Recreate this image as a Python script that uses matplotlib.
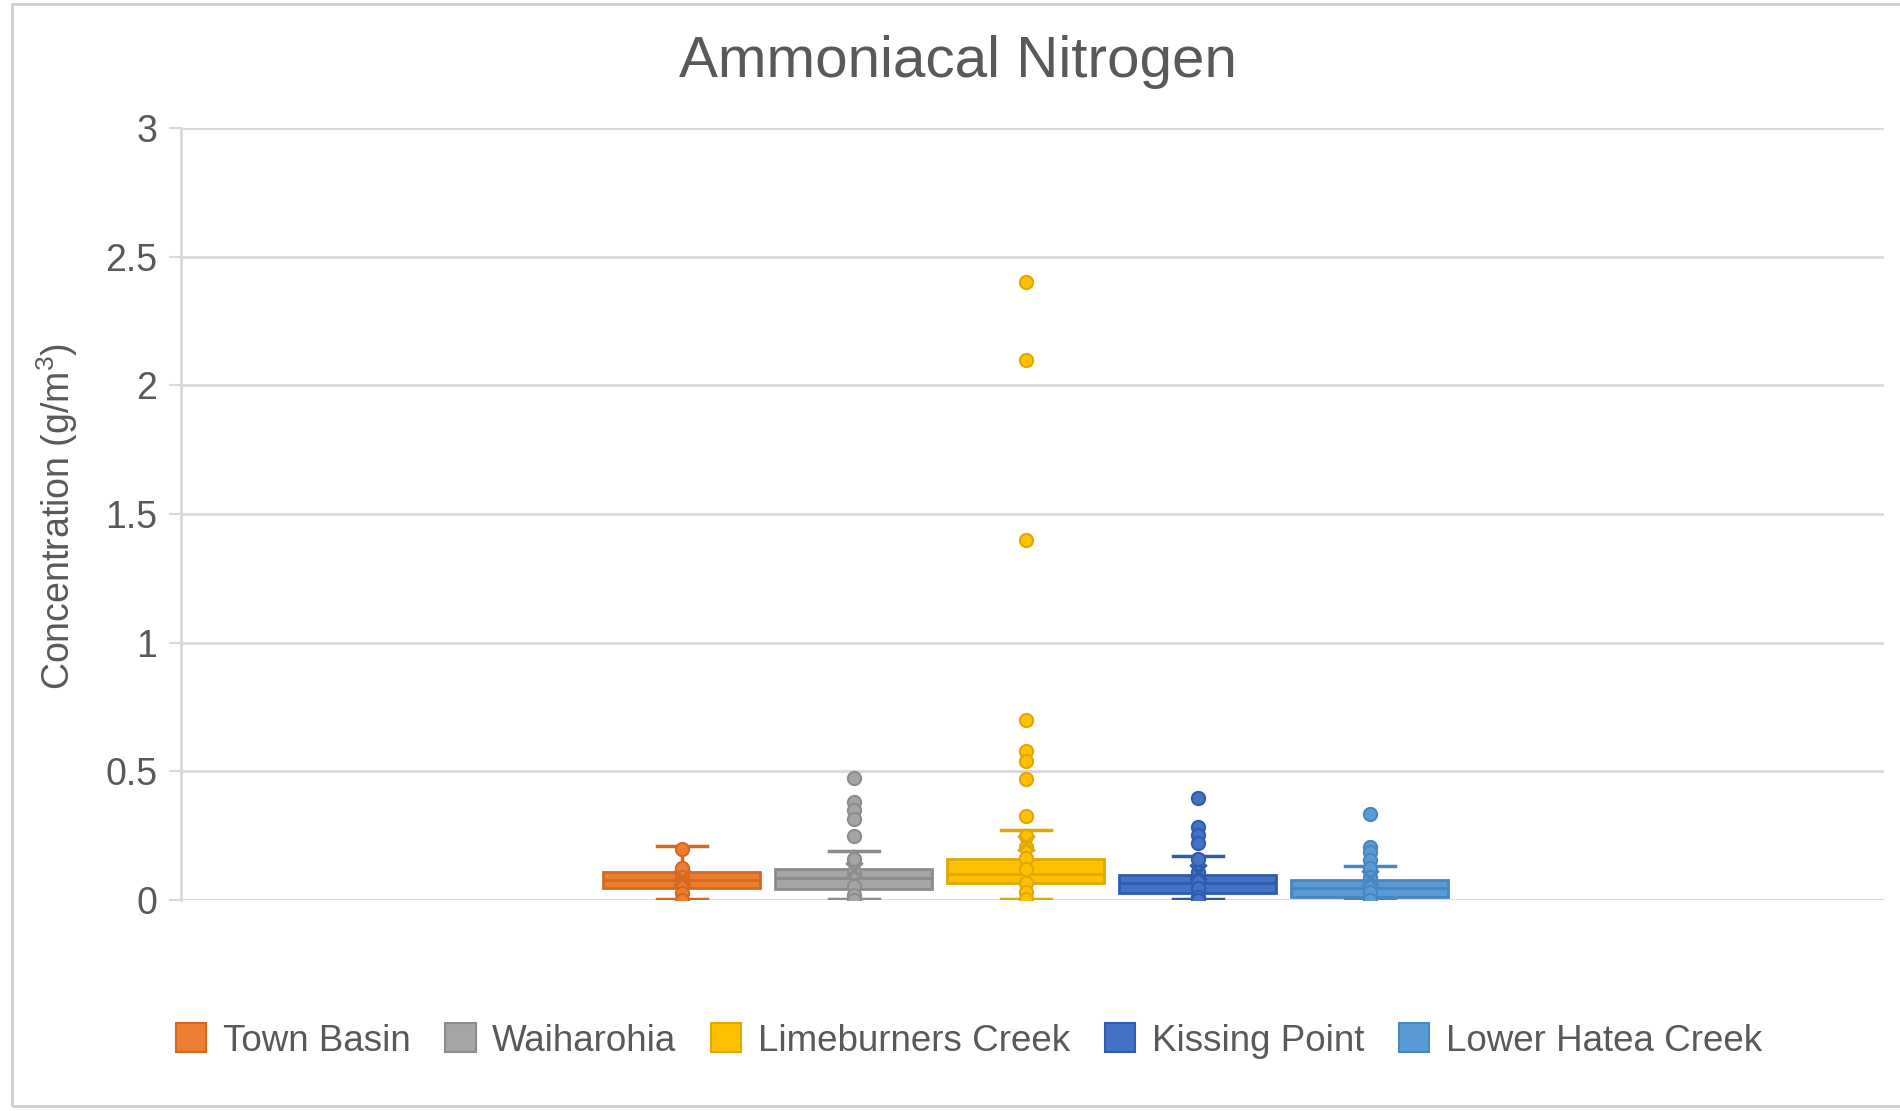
import matplotlib
matplotlib.use("Agg")
import matplotlib.pyplot as plt
from matplotlib.patches import Rectangle

# --- Data (g/m3) ---
sites = ["Town Basin", "Waiharohia", "Limeburners Creek", "Kissing Point", "Lower Hatea Creek"]
colors = ["#ED7D31", "#A5A5A5", "#FFC000", "#4472C4", "#5B9BD5"]
edge_colors = ["#D5691F", "#8C8C8C", "#E0A800", "#2F5BAE", "#4686C4"]

whisker_low = [0.005, 0.004, 0.004, 0.004, 0.003]
q1 = [0.048, 0.042, 0.065, 0.028, 0.013]
median = [0.078, 0.086, 0.100, 0.065, 0.045]
q3 = [0.110, 0.122, 0.160, 0.098, 0.076]
whisker_high = [0.210, 0.190, 0.272, 0.170, 0.134]
mean = [0.085, 0.115, 0.220, 0.110, 0.085]

points_town = [0.20, 0.126, 0.09, 0.065, 0.026, 0.0]
points_waih = [0.474, 0.379, 0.349, 0.316, 0.25, 0.158, 0.11, 0.053, 0.02, 0.0]
points_lime = [2.4, 2.1, 1.4, 0.7, 0.58, 0.54, 0.47, 0.327, 0.249, 0.205, 0.165,
               0.12, 0.065, 0.03, 0.005]
points_kiss = [0.395, 0.284, 0.252, 0.22, 0.16, 0.11, 0.075, 0.045, 0.013, 0.0]
points_hatea = [0.335, 0.207, 0.187, 0.155, 0.123, 0.09, 0.058, 0.032, 0.0]
points = [points_town, points_waih, points_lime, points_kiss, points_hatea]

y_ticks = [0, 0.5, 1, 1.5, 2, 2.5, 3]
y_tick_labels = ["0", "0.5", "1", "1.5", "2", "2.5", "3"]

TEXT = "#595959"
GRID = "#D9D9D9"

plt.rcParams["font.family"] = ["Liberation Sans", "DejaVu Sans"]
plt.rcParams["mathtext.fontset"] = "custom"
plt.rcParams["mathtext.rm"] = "Liberation Sans"
plt.rcParams["mathtext.it"] = "Liberation Sans"

fig = plt.figure(figsize=(19, 11.11), dpi=100)
ax = fig.add_axes([181 / 1900, 1 - 900 / 1111, (1884 - 181) / 1900, (900 - 128) / 1111])

# outer chart frame (right edge falls outside the image)
fig.patches.append(Rectangle((12 / 1900, 1 - 1106 / 1111), 1.2, (1106 - 4) / 1111,
                             transform=fig.transFigure, fill=False,
                             edgecolor="#D0D0D0", linewidth=2))

stats = []
for i, name in enumerate(sites):
    stats.append(dict(label=name, whislo=whisker_low[i], q1=q1[i], med=median[i],
                      q3=q3[i], whishi=whisker_high[i], fliers=[]))

positions = list(range(len(sites)))
bp = ax.bxp(stats, positions=positions, widths=0.91, capwidths=0.29,
            patch_artist=True, showfliers=False, zorder=3)

for i in range(len(sites)):
    bp["boxes"][i].set(facecolor=colors[i], edgecolor=edge_colors[i], linewidth=2)
    bp["medians"][i].set(color=edge_colors[i], linewidth=2)
    for part in ("whiskers", "caps"):
        for ln in bp[part][2 * i:2 * i + 2]:
            ln.set(color=edge_colors[i], linewidth=2.5)

# inner points and outliers
for i, pts in enumerate(points):
    ax.plot([positions[i]] * len(pts), pts, linestyle="none", marker="o",
            markersize=9.5, markerfacecolor=colors[i], markeredgecolor=edge_colors[i],
            markeredgewidth=1.5, zorder=4)
    ax.plot(positions[i], mean[i], linestyle="none", marker="x", markersize=12,
            markeredgecolor=edge_colors[i], markeredgewidth=2.5, zorder=5)

ax.set_xlim(-2.91, 6.99)
ax.set_ylim(0, 3)
ax.set_xticks([])
ax.set_yticks(y_ticks)
ax.set_yticklabels(y_tick_labels)
ax.tick_params(axis="y", labelsize=27, labelcolor=TEXT, color=GRID, length=9, width=1.5, pad=8)
ax.yaxis.grid(True, color=GRID, linewidth=2)
ax.set_axisbelow(True)
for side in ("top", "right", "bottom"):
    ax.spines[side].set_visible(False)
ax.spines["left"].set_color(GRID)
ax.spines["left"].set_linewidth(2)

fig.text(958 / 1900, 1 - 62 / 1111, "Ammoniacal Nitrogen", ha="center", va="center",
         fontsize=42, color=TEXT)
fig.text(57 / 1900, 1 - 516 / 1111, "Concentration (g/m$^3$)", ha="center", va="center",
         rotation=90, fontsize=27, color=TEXT)

handles = [Rectangle((0, 0), 1, 1, facecolor=colors[i], edgecolor=edge_colors[i], linewidth=1.5)
           for i in range(len(sites))]
fig.legend(handles, sites, loc="center", bbox_to_anchor=(969 / 1900, 1 - 1041 / 1111),
           ncol=5, frameon=False, fontsize=26.5, labelcolor=TEXT, handlelength=0.82,
           handleheight=0.82, handletextpad=0.45, columnspacing=0.95)

fig.savefig("out.png", dpi=100)
